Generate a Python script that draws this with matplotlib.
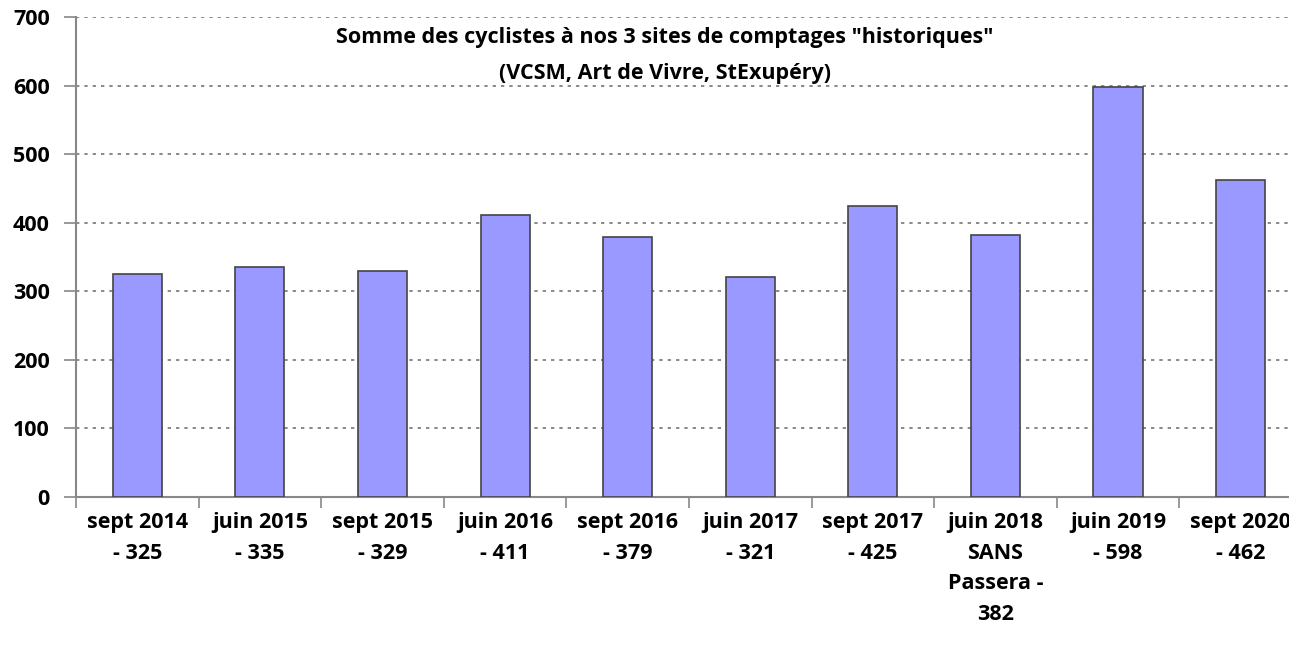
import matplotlib.pyplot as plt
import numpy as np

# --- données ---
categories = ["sept 2014\n- 325", "juin 2015\n- 335", "sept 2015\n- 329", "juin 2016\n- 411",
              "sept 2016\n- 379", "juin 2017\n- 321", "sept 2017\n- 425",
              "juin 2018\nSANS\nPassera -\n382", "juin 2019\n- 598", "sept 2020\n- 462"]
values = [325, 335, 329, 411, 379, 321, 425, 382, 598, 462]
yticks = [0, 100, 200, 300, 400, 500, 600, 700]
title = 'Somme des cyclistes à nos 3 sites de comptages "historiques"\n(VCSM, Art de Vivre, StExupéry)'

plt.rcParams['font.family'] = ['Open Sans', 'DejaVu Sans']
plt.rcParams['font.weight'] = 'bold'

fig = plt.figure(figsize=(12.89, 6.53), dpi=100)
ax = fig.add_axes([0.059, 0.239, 0.951, 0.735])

x = np.arange(len(values))
ax.bar(x, values, width=0.4, color='#9999FF', edgecolor='#444444', linewidth=1.2, zorder=3)

ax.set_xlim(-0.5, len(values) - 0.5)
ax.set_ylim(0, 700)
ax.set_yticks(yticks)
ax.set_yticklabels([str(v) for v in yticks], fontsize=15.5, fontweight='bold')
ax.yaxis.grid(True, linestyle=(0, (2, 3)), color='#777777', linewidth=1.2, zorder=0)

ax.set_xticks(x)
ax.set_xticklabels(categories, fontsize=15.5, fontweight='bold', linespacing=1.6, va='top')
ax.set_xticks(np.arange(len(values) + 1) - 0.5, minor=True)
ax.tick_params(axis='x', which='major', length=0, pad=11)
ax.tick_params(axis='x', which='minor', length=8, width=1.2, color='#888888', direction='out')
ax.tick_params(axis='y', length=9, width=1.2, color='#888888', pad=10)

for side in ['top', 'right']:
    ax.spines[side].set_visible(False)
for side in ['left', 'bottom']:
    ax.spines[side].set_color('#888888')
    ax.spines[side].set_linewidth(1.5)

ax.text(0.516, 0.958, title, transform=fig.transFigure, ha='center', va='top',
        fontsize=15.5, fontweight='bold', linespacing=1.9)

fig.savefig('out.png', dpi=100)
